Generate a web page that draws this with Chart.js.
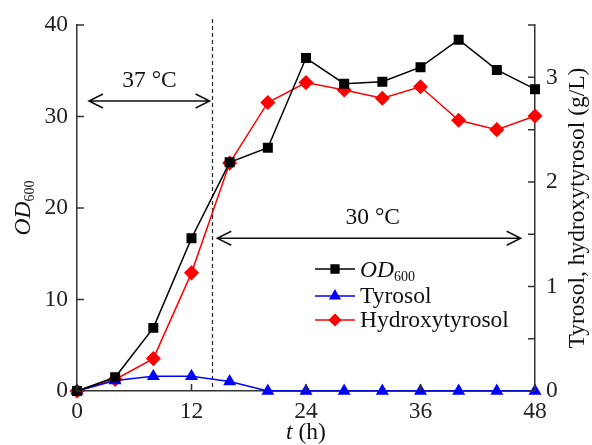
<!DOCTYPE html>
<html>
<head>
<meta charset="utf-8">
<script src="https://cdn.jsdelivr.net/npm/chart.js@4.4.0/dist/chart.umd.min.js"></script>
<style>
  html, body { margin:0; padding:0; background:#fff; }
  #wrap { width:592px; height:445px; }
</style>
</head>
<body>
<div id="wrap"><canvas id="myChart" width="592" height="445"></canvas></div>
<script>
var hours = [0, 4, 8, 12, 16, 20, 24, 28, 32, 36, 40, 44, 48];
var od600 = [0, 1.5, 6.9, 16.7, 25.0, 26.6, 36.4, 33.6, 33.8, 35.4, 38.4, 35.1, 33.0];
var tyrosol = [0, 0.10, 0.14, 0.14, 0.09, 0, 0, 0, 0, 0, 0, 0, 0];
var hydroxytyrosol = [0, 0.11, 0.31, 1.13, 2.18, 2.76, 2.95, 2.88, 2.80, 2.91, 2.59, 2.50, 2.63];
var xTicks = [0, 12, 24, 36, 48];
var odTicks = [0, 10, 20, 30, 40];
var shiftTime = 14.2;

var serif = "'Liberation Serif', 'Times New Roman', serif";
var axisColor = "#333";

function pts(arr){
    return hours.map(function(h, i){ return {x: h, y: arr[i]}; });
}

function arrow(ctx, x1, x2, y){
    ctx.beginPath();
    ctx.moveTo(x1, y); ctx.lineTo(x2, y);
    ctx.moveTo(x1 + 14, y - 7); ctx.lineTo(x1, y); ctx.lineTo(x1 + 14, y + 7);
    ctx.moveTo(x2 - 14, y - 7); ctx.lineTo(x2, y); ctx.lineTo(x2 - 14, y + 7);
    ctx.stroke();
}

// OD with subscript 600
function drawOD(ctx, cx, cy, centered){
    ctx.font = "italic 23.5px " + serif;
    var w1 = ctx.measureText("OD").width;
    ctx.font = "14px " + serif;
    var w2 = ctx.measureText("600").width;
    var x0 = centered ? cx - (w1 + w2) / 2 : cx;
    ctx.textBaseline = "alphabetic";
    ctx.textAlign = "left";
    ctx.font = "italic 23.5px " + serif;
    ctx.fillText("OD", x0, cy + 8);
    ctx.font = "14px " + serif;
    ctx.fillText("600", x0 + w1, cy + 12);
}

var extras = {
    id: "extras",
    beforeDatasetsDraw: function(chart){
        var ctx = chart.ctx, a = chart.chartArea;
        var x = chart.scales.x.getPixelForValue(shiftTime);
        ctx.save();
        ctx.strokeStyle = "#222";
        ctx.lineWidth = 1.2;
        ctx.setLineDash([4, 3]);
        ctx.beginPath();
        ctx.moveTo(x, a.top - 6); ctx.lineTo(x, a.bottom);
        ctx.stroke();
        ctx.restore();
    },
    afterDraw: function(chart){
        var ctx = chart.ctx, a = chart.chartArea;
        var sx = chart.scales.x, sy = chart.scales.y, sy1 = chart.scales.y1;
        ctx.save();
        ctx.strokeStyle = axisColor;
        ctx.lineWidth = 1.5;
        // inward tick marks
        ctx.beginPath();
        xTicks.forEach(function(v){
            var px = sx.getPixelForValue(v);
            ctx.moveTo(px, a.bottom); ctx.lineTo(px, a.bottom - 7);
        });
        odTicks.forEach(function(v){
            var py = sy.getPixelForValue(v);
            ctx.moveTo(a.left, py); ctx.lineTo(a.left + 7, py);
        });
        sy1.ticks.forEach(function(t){
            var py = sy1.getPixelForValue(t.value);
            ctx.moveTo(a.right, py); ctx.lineTo(a.right - 7, py);
        });
        ctx.stroke();

        // temperature arrows
        ctx.strokeStyle = "#111";
        ctx.lineWidth = 1.5;
        arrow(ctx, sx.getPixelForValue(1.25), sx.getPixelForValue(13.9), sy.getPixelForValue(31.7));
        arrow(ctx, sx.getPixelForValue(14.7), sx.getPixelForValue(46.5), sy.getPixelForValue(16.7));
        ctx.fillStyle = "#111";
        ctx.font = "23.5px " + serif;
        ctx.textAlign = "center";
        ctx.textBaseline = "middle";
        ctx.fillText("37 °C", sx.getPixelForValue(7.6), sy.getPixelForValue(33.9));
        ctx.fillText("30 °C", sx.getPixelForValue(31), sy.getPixelForValue(18.9));

        // legend
        var items = chart.data.datasets;
        var rows = [269, 296, 320];
        items.forEach(function(ds, i){
            var y = rows[i];
            ctx.strokeStyle = ds.borderColor;
            ctx.lineWidth = 1.5;
            ctx.beginPath();
            ctx.moveTo(315, y); ctx.lineTo(355, y);
            ctx.stroke();
            Chart.helpers.drawPoint(ctx, {pointStyle: ds.pointStyle, radius: 5.5, rotation: 0, borderWidth: 1}, 335, y);
            ctx.fillStyle = ds.backgroundColor;
            ctx.fill();
            ctx.fillStyle = "#111";
            if (i === 0) {
                drawOD(ctx, 360, y, false);
            } else {
                ctx.font = "23.5px " + serif;
                ctx.textAlign = "left";
                ctx.textBaseline = "middle";
                ctx.fillText(ds.label, 360, y + 1);
            }
        });

        // axis titles
        ctx.fillStyle = "#111";
        ctx.save();
        ctx.translate(22, (a.top + a.bottom) / 2);
        ctx.rotate(-Math.PI / 2);
        drawOD(ctx, 0, 0, true);
        ctx.restore();

        ctx.save();
        ctx.translate(578, (a.top + a.bottom) / 2);
        ctx.rotate(-Math.PI / 2);
        ctx.font = "23.5px " + serif;
        ctx.textAlign = "center";
        ctx.textBaseline = "middle";
        ctx.fillText("Tyrosol, hydroxytyrosol (g/L)", 0, 0);
        ctx.restore();

        ctx.font = "italic 23.5px " + serif;
        var wt = ctx.measureText("t").width;
        ctx.font = "23.5px " + serif;
        var wh = ctx.measureText(" (h)").width;
        var x0 = (a.left + a.right) / 2 - (wt + wh) / 2;
        ctx.textAlign = "left";
        ctx.textBaseline = "middle";
        ctx.font = "italic 23.5px " + serif;
        ctx.fillText("t", x0, 433);
        ctx.font = "23.5px " + serif;
        ctx.fillText(" (h)", x0 + wt, 433);
        ctx.restore();
    }
};

new Chart("myChart", {
    type: "line",
    data: {
        datasets: [{
            label: "OD600",
            data: pts(od600),
            yAxisID: "y",
            borderColor: "#000",
            backgroundColor: "#000",
            pointStyle: "rect",
            pointRadius: 6,
            borderWidth: 1.5,
            clip: false
        }, {
            label: "Tyrosol",
            data: pts(tyrosol),
            yAxisID: "y1",
            borderColor: "#0000ff",
            backgroundColor: "#0000ff",
            pointStyle: "triangle",
            pointRadius: 6,
            borderWidth: 1.5,
            clip: false
        }, {
            label: "Hydroxytyrosol",
            data: pts(hydroxytyrosol),
            yAxisID: "y1",
            borderColor: "#ff0000",
            backgroundColor: "#ff0000",
            pointStyle: "rectRot",
            pointRadius: 6.5,
            borderWidth: 1.5,
            clip: false
        }]
    },
    options: {
        responsive: false,
        animation: false,
        devicePixelRatio: 1,
        layout: {padding: {top: 23, left: 0, right: 0, bottom: 0}},
        plugins: {legend: {display: false}, tooltip: {enabled: false}},
        elements: {line: {tension: 0}, point: {borderWidth: 1}},
        scales: {
            x: {
                type: "linear", min: 0, max: 48,
                afterBuildTicks: function(s){ s.ticks = xTicks.map(function(v){ return {value: v}; }); },
                afterFit: function(s){ s.height = 54; },
                grid: {display: false, drawTicks: false},
                border: {display: true, color: axisColor, width: 1.5},
                ticks: {padding: 7, color: "#222", font: {family: serif, size: 23.5}}
            },
            y: {
                position: "left", min: 0, max: 40,
                afterBuildTicks: function(s){ s.ticks = odTicks.map(function(v){ return {value: v}; }); },
                afterFit: function(s){ s.width = 77; },
                grid: {display: false, drawTicks: false},
                border: {display: true, color: axisColor, width: 1.5},
                ticks: {padding: 9, color: "#222", font: {family: serif, size: 23.5}}
            },
            y1: {
                position: "right", min: 0, max: 3.5,
                afterFit: function(s){ s.width = 57; },
                grid: {display: false, drawTicks: false},
                border: {display: true, color: axisColor, width: 1.5},
                ticks: {
                    stepSize: 0.5, autoSkip: false, padding: 11, color: "#222",
                    font: {family: serif, size: 23.5},
                    callback: function(v){ return Number.isInteger(v) ? v : ""; }
                }
            }
        }
    },
    plugins: [extras]
});
</script>
</body>
</html>
